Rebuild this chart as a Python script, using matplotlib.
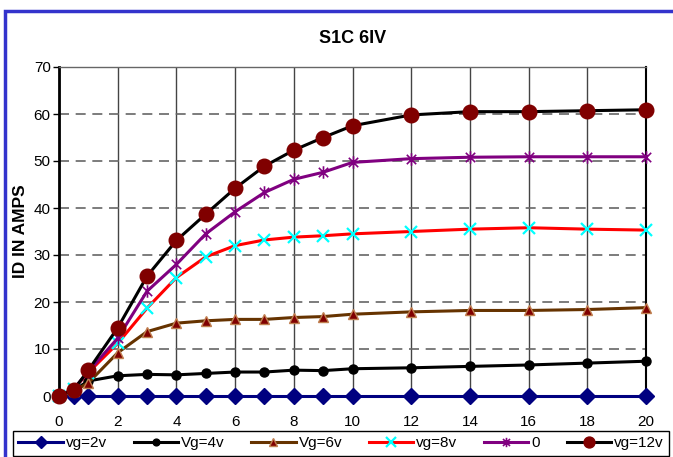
import matplotlib
matplotlib.use("Agg")
import matplotlib.pyplot as plt
from matplotlib.path import Path
from matplotlib.patches import Rectangle

plt.rcParams['font.family'] = ['Liberation Sans', 'DejaVu Sans']

vds = [0, 0.5, 1, 2, 3, 4, 5, 6, 7, 8, 9, 10, 12, 14, 16, 18, 20]
vg2 = [0] * 17
vg4 = [0, 1.2, 3.2, 4.3, 4.6, 4.5, 4.8, 5.1, 5.1, 5.5, 5.4, 5.8, 6.0, 6.3, 6.6, 7.0, 7.4]
vg6 = [0, 1.0, 2.8, 9.2, 13.7, 15.5, 16.0, 16.3, 16.3, 16.7, 16.9, 17.4, 17.9, 18.2, 18.2, 18.4, 18.8]
vg8 = [0, 1.5, 5.0, 11.2, 18.7, 25.2, 29.6, 32.0, 33.2, 33.8, 34.1, 34.5, 35.0, 35.5, 35.8, 35.5, 35.3]
vg0 = [0, 1.5, 5.2, 12.3, 22.3, 28.0, 34.5, 39.2, 43.3, 46.1, 47.6, 49.7, 50.5, 50.8, 50.9, 50.9, 50.9]
vg12 = [0, 1.3, 5.5, 14.5, 25.5, 33.1, 38.7, 44.2, 48.9, 52.3, 55.0, 57.5, 59.8, 60.5, 60.5, 60.7, 60.9]
labels = ['vg=2v', 'Vg=4v', 'Vg=6v', 'vg=8v', '0', 'vg=12v']
xticks = list(range(0, 21, 2))
yticks = list(range(0, 71, 10))

star = Path([(0, -1), (0, 1), (-0.75, -0.75), (0.75, 0.75), (-0.75, 0.75), (0.75, -0.75)],
            [Path.MOVETO, Path.LINETO, Path.MOVETO, Path.LINETO, Path.MOVETO, Path.LINETO])

fig = plt.figure(figsize=(6.73, 4.57), dpi=100)
ax = fig.add_axes([59/673, 1-396/457, 587/673, 329/457])

lw = 2.2
ax.plot(vds[1:], vg2[1:], color='#000080', lw=lw, marker='D', ms=8, mfc='#000080', mec='#000080', label=labels[0], zorder=3, clip_on=False)
ax.plot(vds, vg4, color='black', lw=lw, marker='o', ms=6.5, mfc='black', mec='black', label=labels[1], zorder=4, clip_on=False)
ax.plot(vds, vg6, color='#663300', lw=lw, marker='^', ms=7, mfc='#800000', mec='#C08050', mew=1, label=labels[2], zorder=5, clip_on=False)
ax.plot(vds, vg8, color='#FF0000', lw=lw, marker='x', ms=9, mec='#00FFFF', mew=1.6, label=labels[3], zorder=6, clip_on=False)
ax.plot(vds, vg0, color='#800080', lw=lw, marker=star, ms=9, mec='#800080', mew=1.2, label=labels[4], zorder=7, clip_on=False)
ax.plot(vds, vg12, color='black', lw=lw, marker='o', ms=10.5, mfc='#800000', mec='#800000', label=labels[5], zorder=8, clip_on=False)

ax.set_xlim(0, 20)
ax.set_ylim(0, 70)
ax.set_xticks(xticks)
ax.set_yticks(yticks)
ax.tick_params(axis='x', length=0, pad=14, labelsize=11)
ax.tick_params(axis='y', length=4, width=1, pad=2, labelsize=11)
ax.xaxis.grid(True, color='#444444', lw=1, ls='-')
ax.yaxis.grid(True, color='#666666', lw=1.2, ls=(0, (6, 4)))
ax.set_axisbelow(True)
ax.spines['left'].set_linewidth(2)
ax.spines['left'].set_color('black')
ax.spines['right'].set_linewidth(1.5)
ax.spines['right'].set_color('black')
ax.spines['top'].set_linewidth(1)
ax.spines['top'].set_color('#666666')
ax.spines['bottom'].set_linewidth(1)

ax.set_title('S1C 6IV', fontsize=13, fontweight='bold', pad=17)
ax.set_ylabel('ID IN AMPS', fontsize=12.5, fontweight='bold')
ax.yaxis.set_label_coords(-31/587, 0.5)
ax.set_xlabel('VDS IN VOLTS', fontsize=11, fontweight='bold', color='#999999')
ax.xaxis.set_label_coords(0.43, -44/329)

leg = fig.legend(loc='upper left', bbox_to_anchor=(13/673, 1-431/457 - 0.1, 656/673, 0.1), mode='expand',
                 ncol=6, frameon=True, fontsize=11, handlelength=2.9, handletextpad=0.2,
                 columnspacing=1.0, borderaxespad=0, borderpad=0.35, fancybox=False,
                 markerscale=0.75, framealpha=1)
leg.get_frame().set_edgecolor('black')
leg.get_frame().set_linewidth(1)
leg.set_zorder(10)

fig.patches.append(Rectangle((5/673, -0.1), 1.2, (457-11)/457 + 0.1, transform=fig.transFigure,
                             fill=False, edgecolor='#3333CC', lw=2.5, zorder=0))

fig.savefig('out.png', dpi=100)
